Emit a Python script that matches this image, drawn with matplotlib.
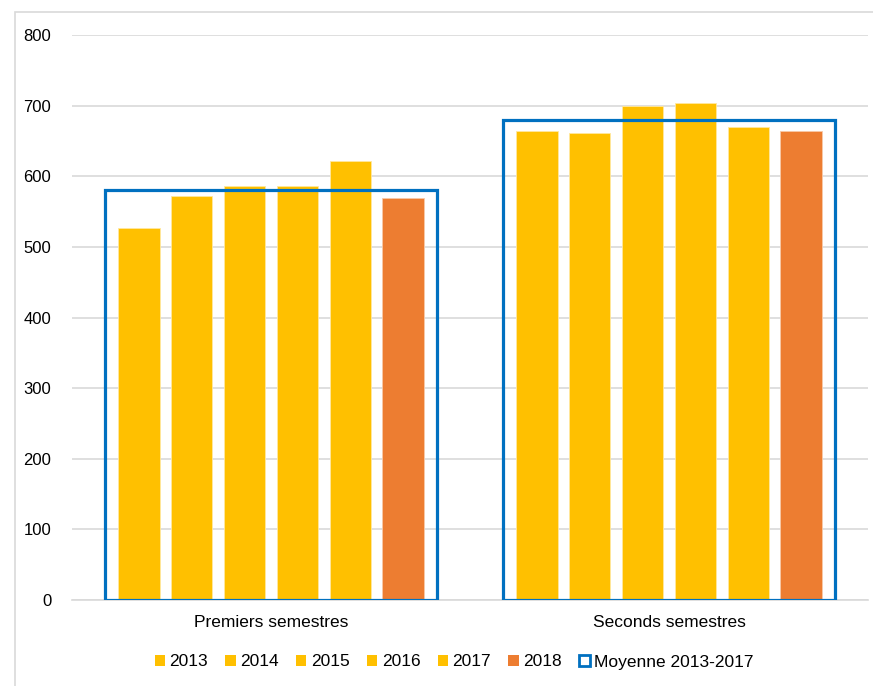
import numpy as np
import matplotlib.pyplot as plt
from matplotlib.patches import Rectangle, Patch

plt.rcParams['font.family'] = ['Liberation Sans', 'DejaVu Sans']

categories = ["Premiers semestres", "Seconds semestres"]
years = ["2013", "2014", "2015", "2016", "2017", "2018"]
values = {
    "2013": [527, 664],
    "2014": [572, 661],
    "2015": [586, 700],
    "2016": [586, 704],
    "2017": [622, 670],
    "2018": [569, 664],
}
mean_label = "Moyenne 2013-2017"
mean_values = [581, 680]

yellow = "#FFC000"
orange = "#ED7D31"
blue = "#0070C0"
grid = "#D9D9D9"

fig = plt.figure(figsize=(8.73, 6.86), dpi=100)
ax = fig.add_axes([72 / 873, 1 - 600 / 686, (868 - 72) / 873, (600 - 35) / 686])

# chart area border
fig.patches.append(Rectangle((15 / 873, -0.1), 1.2, 1 - 12 / 686 + 0.1,
                             transform=fig.transFigure, fill=False,
                             edgecolor=grid, linewidth=1.2))

x = np.arange(len(categories))
step = 0.133
width = 0.105
for i, y in enumerate(years):
    offs = (i - 2.5) * step
    col = orange if y == "2018" else yellow
    ax.bar(x + offs, values[y], width=width, color=col,
           edgecolor="#FFE8A0" if col == yellow else "#F8C9A8",
           linewidth=0.6, zorder=2, label=y)

ax.bar(x, mean_values, width=0.835, fill=False, edgecolor=blue,
       linewidth=2.3, zorder=3)

ax.set_xlim(-0.5, 1.5)
ax.set_ylim(0, 800)
ax.set_yticks(range(0, 801, 100))
ax.yaxis.grid(True, color=grid, linewidth=1.2, zorder=0)
ax.set_axisbelow(True)
for s in ["top", "right", "left"]:
    ax.spines[s].set_visible(False)
ax.spines["bottom"].set_color(grid)
ax.spines["bottom"].set_linewidth(1.2)
ax.tick_params(axis="both", length=0, colors="black")
ax.tick_params(axis="y", pad=15, labelsize=12)
ax.tick_params(axis="x", pad=11, labelsize=12.5)
ax.set_xticks(x)
ax.set_xticklabels(categories)

handles = [Patch(facecolor=yellow if y != "2018" else orange, edgecolor="none")
           for y in years]
handles.append(Patch(facecolor="white", edgecolor=blue, linewidth=2))
leg = fig.legend(handles, years + [mean_label], loc="center",
                 bbox_to_anchor=(0.52, 1 - 662 / 686), ncol=7, frameon=False,
                 fontsize=12.5, handlelength=0.6, handleheight=0.6,
                 handletextpad=0.25, columnspacing=1.0)

fig.savefig("out.png", dpi=100)
